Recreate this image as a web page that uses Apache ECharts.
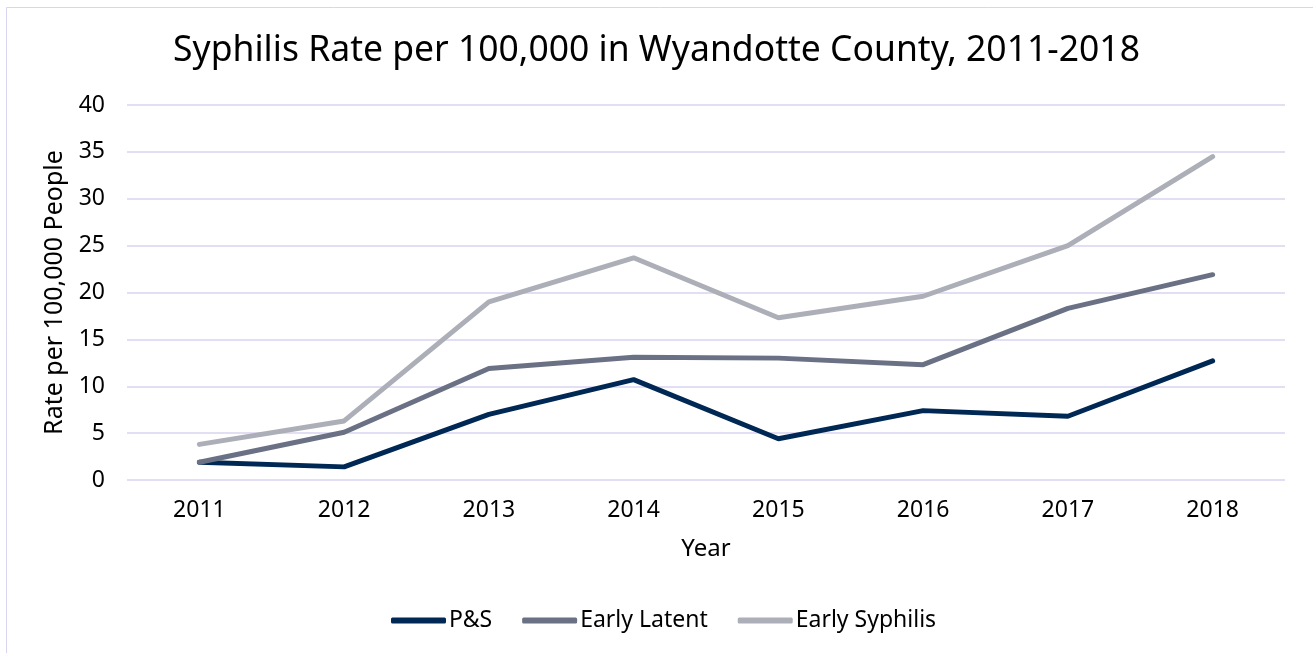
<!DOCTYPE html>
<html>
<head>
<meta charset="utf-8">
<title>Syphilis Rate</title>
<script src="https://cdn.jsdelivr.net/npm/echarts@6/dist/echarts.min.js"></script>
<style>
  html, body { margin: 0; padding: 0; background: #fff; }
  #main { width: 1313px; height: 653px; }
</style>
</head>
<body>
<div id="main"></div>
<script>
var years = ['2011', '2012', '2013', '2014', '2015', '2016', '2017', '2018'];
var psRate = [1.9, 1.4, 7.0, 10.7, 4.4, 7.4, 6.8, 12.7];
var earlyLatent = [1.9, 5.1, 11.9, 13.1, 13.0, 12.3, 18.3, 21.9];
var earlySyphilis = [3.8, 6.3, 19.0, 23.7, 17.3, 19.6, 25.0, 34.5];

var font = 'Noto Sans';
var chart = echarts.init(document.getElementById('main'));

function line(name, data, color) {
    return {
        name: name,
        type: 'line',
        data: data,
        symbol: 'none',
        lineStyle: { color: color, width: 5, cap: 'round' },
        itemStyle: { color: color },
        emphasis: { disabled: true }
    };
}

chart.setOption({
    animation: false,
    textStyle: { fontFamily: font },
    graphic: [{
        type: 'rect',
        shape: { x: 6.5, y: 7.5, width: 1400, height: 700 },
        style: { fill: 'none', stroke: '#d9d5f0', lineWidth: 1 },
        silent: true
    }],
    title: {
        text: 'Syphilis Rate per 100,000 in Wyandotte County, 2011-2018',
        left: 'center',
        top: 28,
        textStyle: { fontFamily: font, fontSize: 35.5, fontWeight: 'normal', color: '#000' }
    },
    legend: {
        bottom: 16,
        left: 386,
        itemWidth: 55,
        itemHeight: 6,
        itemGap: 30,
        icon: 'roundRect',
        textStyle: { fontFamily: font, fontSize: 23, color: '#000', padding: [0, 0, 0, -2] },
        data: ['P&S', 'Early Latent', 'Early Syphilis']
    },
    grid: { left: 127, right: 28, top: 105, bottom: 173 },
    xAxis: {
        type: 'category',
        data: years,
        boundaryGap: true,
        name: 'Year',
        nameLocation: 'middle',
        nameGap: 57,
        nameTextStyle: { fontFamily: font, fontSize: 24, color: '#000' },
        axisLine: { show: false },
        axisTick: { show: false },
        axisLabel: { fontFamily: font, fontSize: 23, color: '#000', margin: 19 }
    },
    yAxis: {
        type: 'value',
        min: 0,
        max: 40,
        interval: 5,
        name: 'Rate per 100,000 People',
        nameLocation: 'middle',
        nameGap: 57,
        nameTextStyle: { fontFamily: font, fontSize: 25, color: '#000' },
        axisLine: { show: false },
        axisTick: { show: false },
        axisLabel: { fontFamily: font, fontSize: 23, color: '#000', margin: 22 },
        splitLine: { lineStyle: { color: '#d9d5f0', width: 1.5 } }
    },
    series: [
        line('P&S', psRate, '#002855'),
        line('Early Latent', earlyLatent, '#6b7185'),
        line('Early Syphilis', earlySyphilis, '#adafb8')
    ]
});
</script>
</body>
</html>
